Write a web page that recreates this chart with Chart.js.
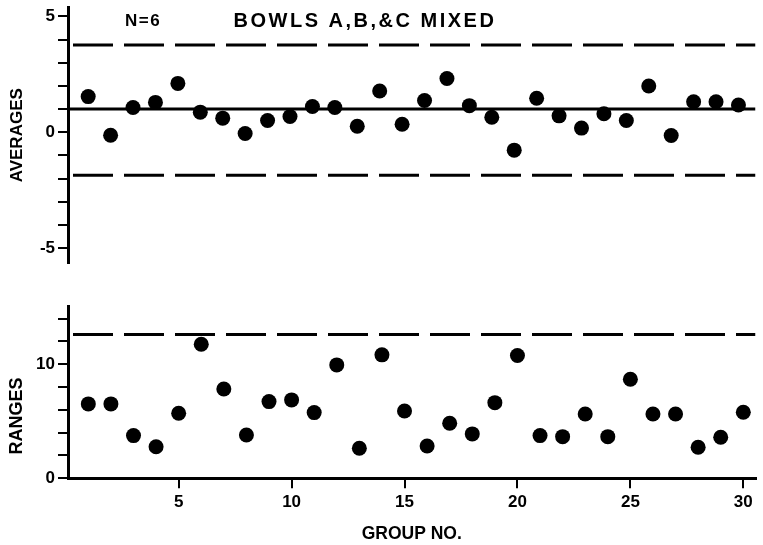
<!DOCTYPE html>
<html><head><meta charset="utf-8">
<script src="https://cdn.jsdelivr.net/npm/chart.js@4.4.0/dist/chart.umd.min.js"></script>
<style>
html,body{margin:0;padding:0;background:#fff;width:763px;height:545px;overflow:hidden}
#top{position:absolute;left:0;top:0}
#bot{position:absolute;left:0;top:290px}
</style></head><body>
<canvas id="top" width="763" height="280"></canvas>
<canvas id="bot" width="763" height="255"></canvas>
<script>
// ---- data ----
const groups = [1,2,3,4,5,6,7,8,9,10,11,12,13,14,15,16,17,18,19,20,21,22,23,24,25,26,27,28,29,30];
const averages = [1.54,-0.13,1.07,1.29,2.11,0.87,0.61,-0.05,0.51,0.68,1.11,1.07,0.26,1.78,0.35,1.37,2.32,1.15,0.65,-0.77,1.47,0.71,0.18,0.80,0.51,2.00,-0.14,1.32,1.32,1.18];
const ranges = [6.52,6.52,3.74,2.77,5.70,11.75,7.83,3.80,6.72,6.87,5.76,9.94,2.63,10.82,5.90,2.83,4.82,3.89,6.63,10.76,3.74,3.65,5.64,3.65,8.68,5.64,5.64,2.72,3.60,5.79];
const avgCenter = 1.01;
const avgUCL = 3.77;
const avgLCL = -1.85;
const rangeUCL = 12.6;
const avgTickLabels = [5, 0, -5];
const rangeTickLabels = [0, 10];
const groupTickLabels = [5, 10, 15, 20, 25, 30];
const titleN = 'N=6';
const titleMain = 'BOWLS A,B,&C MIXED';
const avgTitle = 'AVERAGES';
const rangeTitle = 'RANGES';
const groupTitle = 'GROUP NO.';

// ---- axis ranges ----
const X_MIN = 0.1, X_MAX_TOP = 30.76, X_MAX_BOT = 30.54;
const AVG_MIN = -5.64, AVG_MAX = 5.385;
const RNG_MIN = 0, RNG_MAX = 15.1;

const FONT = "'Liberation Sans', Arial, sans-serif";
const BLACK = '#000';

const textPlugin = {
  id: 'texts',
  afterDraw(chart, args, opts) {
    const ctx = chart.ctx;
    (opts.items || []).forEach(it => {
      ctx.save();
      ctx.font = it.font;
      ctx.fillStyle = BLACK;
      ctx.textAlign = 'center';
      ctx.textBaseline = 'middle';
      if (it.letterSpacing) ctx.letterSpacing = it.letterSpacing;
      ctx.translate(it.x, it.y);
      if (it.rotate) ctx.rotate(it.rotate);
      ctx.fillText(it.text, 0, 0);
      ctx.restore();
    });
  }
};

function hline(v, xmax, dashed) {
  return {
    type: 'line',
    data: [{x: X_MIN, y: v}, {x: xmax, y: v}],
    borderColor: BLACK, borderWidth: 3,
    borderDash: dashed ? [40, 11] : [],
    borderDashOffset: dashed ? 46 : 0,
    pointRadius: 0, fill: false, showLine: true
  };
}

function yAxis(min, max, step, labels, width) {
  return {
    type: 'linear', min, max,
    afterFit(s) { s.width = width; },
    border: {display: true, color: BLACK, width: 3},
    grid: {drawOnChartArea: false, drawTicks: true, tickLength: 10, color: BLACK, lineWidth: 2},
    ticks: {
      stepSize: step, includeBounds: false, autoSkip: false, color: BLACK, padding: 3,
      font: {family: FONT, size: 17, weight: 'bold', lineHeight: 0.5},
      callback: v => labels.includes(v) ? String(v) : ''
    }
  };
}

const pointStyle = {pointRadius: 7.5, pointBackgroundColor: BLACK, pointBorderWidth: 0, showLine: false};

new Chart(document.getElementById('top'), {
  type: 'scatter',
  data: {
    datasets: [
      Object.assign({data: groups.map((g, i) => ({x: g, y: averages[i]}))}, pointStyle),
      hline(avgCenter, X_MAX_TOP, false),
      hline(avgUCL, X_MAX_TOP, true),
      hline(avgLCL, X_MAX_TOP, true)
    ]
  },
  options: {
    responsive: false, animation: false, devicePixelRatio: 1,
    layout: {padding: {top: 5, bottom: 17, left: 0, right: 0}},
    plugins: {
      legend: {display: false}, tooltip: {enabled: false},
      texts: {items: [
        {text: titleN, x: 143, y: 21, font: `bold 17px ${FONT}`, letterSpacing: '1.5px'},
        {text: titleMain, x: 365, y: 21, font: `bold 20px ${FONT}`, letterSpacing: '2.5px'}
      ]}
    },
    scales: {
      x: {type: 'linear', display: false, min: X_MIN, max: X_MAX_TOP},
      y: Object.assign(yAxis(AVG_MIN, AVG_MAX, 1, avgTickLabels, 68), {
        title: {display: true, text: avgTitle, color: BLACK, padding: {top: 7, bottom: 0},
                font: {family: FONT, size: 17, weight: 'bold'}}
      })
    }
  },
  plugins: [textPlugin]
});

new Chart(document.getElementById('bot'), {
  type: 'scatter',
  data: {
    datasets: [
      Object.assign({data: groups.map((g, i) => ({x: g, y: ranges[i]}))}, pointStyle),
      hline(rangeUCL, X_MAX_BOT, true)
    ]
  },
  options: {
    responsive: false, animation: false, devicePixelRatio: 1,
    layout: {padding: {top: 16, bottom: 0, left: 0, right: 5}},
    plugins: {
      legend: {display: false}, tooltip: {enabled: false},
      texts: {items: [
        {text: rangeTitle, x: 17, y: 126, font: `bold 18px ${FONT}`, rotate: -Math.PI / 2}
      ]}
    },
    scales: {
      x: {
        type: 'linear', min: X_MIN, max: X_MAX_BOT,
        afterFit(s) { s.height = 66.7; },
        border: {display: true, color: BLACK, width: 3},
        grid: {drawOnChartArea: false, drawTicks: true, tickLength: 10, color: BLACK, lineWidth: 2},
        ticks: {
          stepSize: 5, includeBounds: false, autoSkip: false, color: BLACK, padding: 4,
          font: {family: FONT, size: 17, weight: 'bold'},
          callback: v => groupTickLabels.includes(v) ? String(v) : ''
        },
        title: {display: true, text: groupTitle, color: BLACK, padding: {top: 0, bottom: 0},
                font: {family: FONT, size: 17.5, weight: 'bold'}}
      },
      y: yAxis(RNG_MIN, RNG_MAX, 2, rangeTickLabels, 68)
    }
  },
  plugins: [textPlugin]
});
</script>
</body></html>
